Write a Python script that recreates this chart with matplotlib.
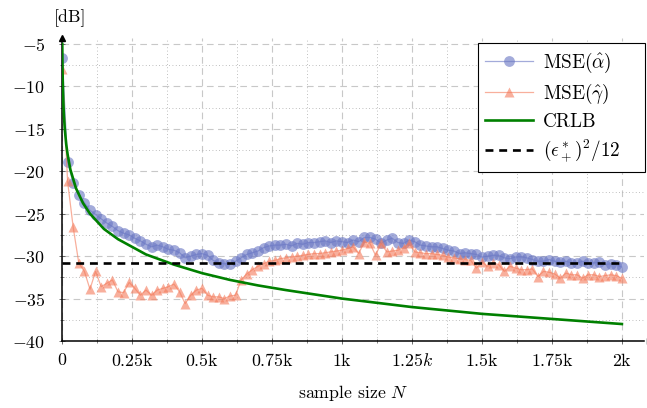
import numpy as np
import matplotlib
matplotlib.use("Agg")
import matplotlib.pyplot as plt
from matplotlib.ticker import MultipleLocator

plt.rcParams["font.family"] = "serif"
plt.rcParams["font.serif"] = ["cmr10"]
plt.rcParams["mathtext.fontset"] = "cm"
plt.rcParams["axes.formatter.use_mathtext"] = True

# sample grid of the Monte Carlo runs
n_mse = np.array([1] + list(range(20, 2001, 20)))

mse_alpha = [
    -6.6, -18.9, -21.4, -22.8, -23.7, -24.6, -25.1, -25.6, -26.1, -26.5, -27.0,
    -27.3, -27.5, -27.9, -28.2, -28.6, -28.9, -28.7, -28.9, -29.2, -29.3,
    -29.6, -30.2, -30.0, -29.8, -29.7, -29.9, -30.5, -30.8, -30.9, -30.9,
    -30.6, -30.2, -29.8, -29.6, -29.4, -29.0, -28.8, -28.7, -28.7, -28.6,
    -28.8, -28.5, -28.6, -28.4, -28.4, -28.3, -28.2, -28.4, -28.2, -28.3,
    -28.4, -28.1, -28.3, -27.8, -27.8, -28.0, -28.5, -28.1, -27.9, -28.4,
    -28.5, -28.1, -28.3, -28.7, -28.8, -28.9, -28.9, -29.1, -29.3, -29.4,
    -29.7, -29.6, -29.7, -29.8, -30.1, -30.0, -29.9, -29.9, -30.2, -30.3,
    -30.1, -30.1, -30.2, -30.4, -30.6, -30.6, -30.4, -30.6, -30.7, -30.6,
    -30.8, -30.8, -30.6, -30.8, -30.8, -30.7, -31.0, -30.9, -31.0, -31.3,
]

mse_gamma = [
    -8.0, -21.2, -26.6, -30.8, -31.8, -33.9, -31.8, -33.6, -33.2, -32.8, -34.2,
    -34.3, -33.1, -33.8, -34.6, -34.0, -34.6, -34.0, -33.8, -33.6, -33.3,
    -34.2, -35.6, -34.6, -34.0, -33.8, -34.6, -34.8, -34.8, -35.0, -34.7,
    -34.6, -32.8, -32.1, -31.6, -31.2, -30.9, -30.6, -30.5, -30.3, -30.2,
    -30.1, -30.0, -29.9, -29.8, -29.7, -29.7, -29.6, -29.5, -29.4, -29.3,
    -29.1, -28.9, -29.7, -28.3, -28.5, -29.9, -28.5, -29.5, -29.4, -29.3,
    -29.0, -28.5, -29.5, -29.6, -29.7, -29.7, -29.8, -29.9, -30.1, -30.2,
    -30.3, -30.4, -30.5, -31.4, -30.7, -31.2, -30.8, -31.0, -31.8, -31.2,
    -31.4, -31.6, -31.6, -31.5, -32.4, -31.8, -31.9, -32.1, -32.6, -32.0,
    -32.2, -32.2, -32.6, -32.2, -32.2, -32.4, -32.3, -32.2, -32.3, -32.6,
]

n_crlb = [1, 2, 3, 5, 7, 10, 15, 20, 30, 50, 75, 100, 150, 200, 300, 400,
          500, 600, 700, 800, 1000, 1250, 1500, 1750, 2000]
crlb = [-5.0, -8.0, -9.8, -12.0, -13.5, -15.0, -16.8, -18.0, -19.8, -22.0,
        -23.75, -25.0, -26.8, -28.0, -29.8, -31.0, -32.0, -32.8, -33.45,
        -34.0, -35.0, -36.0, -36.8, -37.4, -38.0]

n_quant = [0, 2000]
quant = [-30.85, -30.85]

xticks = [0, 250, 500, 750, 1000, 1250, 1500, 1750, 2000]
xtick_labels = [r"$0$", r"$0.25\mathrm{k}$", r"$0.5\mathrm{k}$",
                r"$0.75\mathrm{k}$", r"$1\mathrm{k}$", r"$1.25k$",
                r"$1.5\mathrm{k}$", r"$1.75\mathrm{k}$", r"$2\mathrm{k}$"]
yticks = [-40, -35, -30, -25, -20, -15, -10, -5]

fs = 12.8

fig = plt.figure(figsize=(6.47, 4.08), dpi=100)
ax = fig.add_axes([0.0958, 0.1642, 0.900, 0.7426])

ax.plot(n_mse, mse_alpha, color="#6b78c4", alpha=0.62, lw=0.9, marker="o",
        ms=7.8, mec="none", label=r"MSE$(\hat{\alpha})$", zorder=3)
ax.plot(n_mse, mse_gamma, color="#f47a5a", alpha=0.6, lw=0.9, marker="^",
        ms=7, mec="none", label=r"MSE$(\hat{\gamma})$", zorder=3)
ax.plot(n_crlb, crlb, color="#008000", lw=1.9, label="CRLB", zorder=4)
ax.plot(n_quant, quant, color="black", lw=1.9, ls=(0, (3, 2.2)),
        label=r"$(\epsilon_+^*)^2/12$", zorder=4)

ax.set_xlim(0, 2080)
ax.set_ylim(-40, -4.3)
ax.set_xticks(xticks)
ax.set_xticklabels(xtick_labels)
ax.set_yticks(yticks)
ax.set_yticklabels([r"$%d$" % v for v in yticks])
ax.xaxis.set_minor_locator(MultipleLocator(125))
ax.yaxis.set_minor_locator(MultipleLocator(2.5))
ax.tick_params(which="both", direction="inout", labelsize=fs, color="#555555")
ax.tick_params(which="major", length=4, width=0.6)
ax.tick_params(which="minor", length=3, width=0.5)
ax.tick_params(axis="x", which="major", pad=6)
ax.tick_params(axis="y", which="major", pad=10)

ax.grid(which="major", color="#c8c8c8", ls=(0, (6, 4)), lw=0.8)
ax.grid(which="minor", color="#aaaaaa", ls=(0, (1, 3)), lw=0.6)
ax.set_axisbelow(True)

for side in ("top", "right"):
    ax.spines[side].set_visible(False)
ax.spines["left"].set_linewidth(1.1)
ax.spines["bottom"].set_linewidth(1.1)
ax.plot(1.01, 0, ">k", ms=4, transform=ax.transAxes, clip_on=False)
ax.plot(0, 1, "^k", ms=4, transform=ax.transAxes, clip_on=False)

ax.set_xlabel(r"sample size $N$", fontsize=fs, labelpad=10)
fig.text(0.109, 0.955, "[dB]", fontsize=fs, ha="center", va="center")

leg = ax.legend(loc="upper left", bbox_to_anchor=(0.714, 0.558, 0.287, 0.425),
                mode="expand", borderaxespad=0, fontsize=13.8,
                fancybox=False, edgecolor="black", framealpha=1,
                handlelength=2.5, handletextpad=0.5, labelspacing=0.36,
                borderpad=0.4)
leg.get_frame().set_linewidth(0.8)

fig.savefig("out.png", dpi=100)
